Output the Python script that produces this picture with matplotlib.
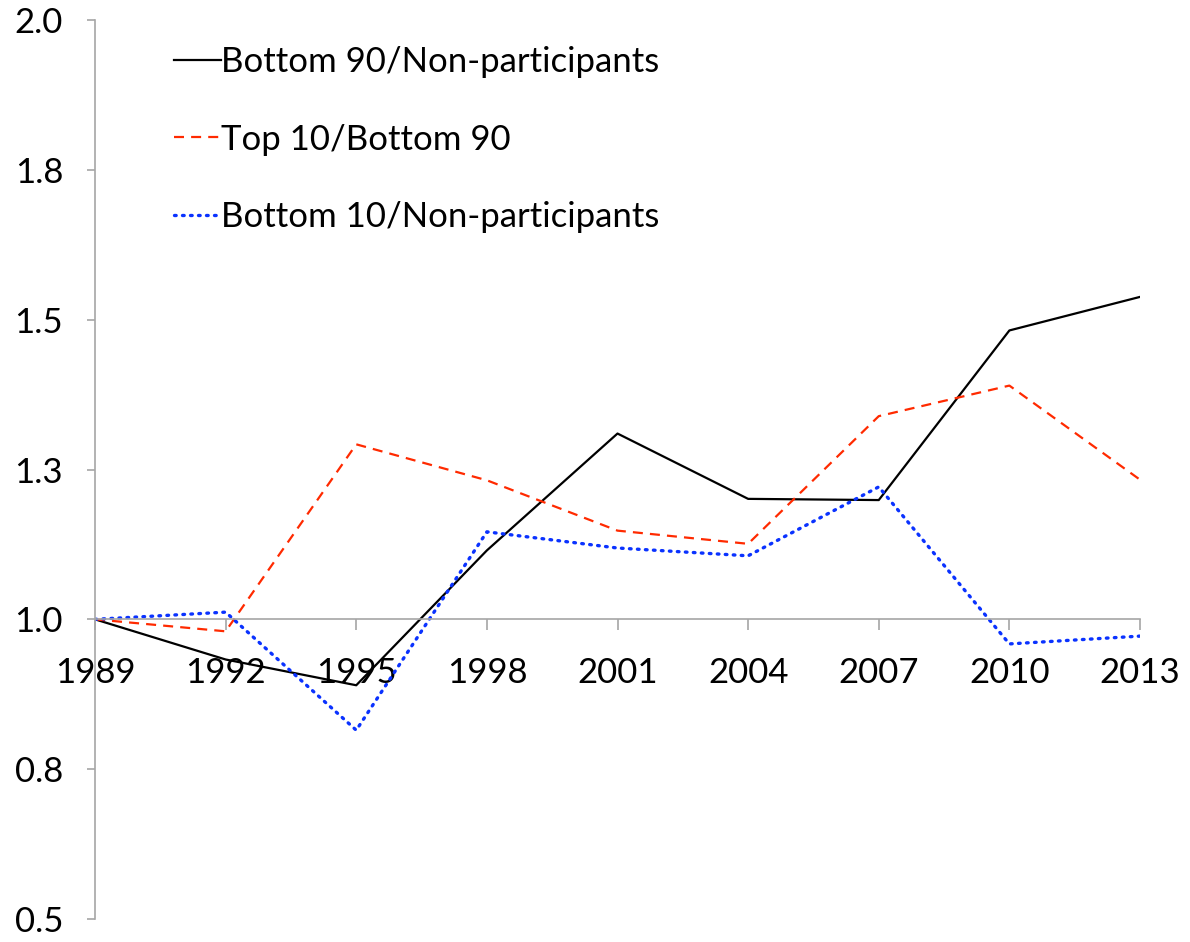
import matplotlib
matplotlib.use("Agg")
import matplotlib.pyplot as plt

years = ["1989", "1992", "1995", "1998", "2001", "2004", "2007", "2010", "2013"]
bottom90_nonpart = [1.0, 0.933, 0.89, 1.115, 1.31, 1.201, 1.199, 1.482, 1.538]
top10_bottom90 = [1.0, 0.98, 1.292, 1.232, 1.148, 1.126, 1.339, 1.39, 1.233]
bottom10_nonpart = [1.0, 1.012, 0.815, 1.146, 1.119, 1.106, 1.221, 0.959, 0.972]
series_labels = ["Bottom 90/Non-participants", "Top 10/Bottom 90", "Bottom 10/Non-participants"]
y_ticks = [0.5, 0.75, 1.0, 1.25, 1.5, 1.75, 2.0]
y_tick_labels = ["0.5", "0.8", "1.0", "1.3", "1.5", "1.8", "2.0"]

plt.rcParams['font.family'] = ['Lato', 'DejaVu Sans']

fig = plt.figure(figsize=(11.9, 9.42), dpi=100)
ax = fig.add_axes([95/1190, 23/942, (1140-95)/1190, (919-20)/942])

x = list(range(len(years)))
ax.plot(x, bottom90_nonpart, color='black', lw=1.6, label=series_labels[0])
ax.plot(x, top10_bottom90, color='#FF2A00', lw=1.6, dashes=(4.5, 3.2), label=series_labels[1])
ax.plot(x, bottom10_nonpart, color='#0A32FF', lw=2.4, linestyle=(0, (0.5, 1.9)),
        dash_capstyle='round', label=series_labels[2])

ax.set_xlim(0, len(years) - 1)
ax.set_ylim(0.5, 2.0)
ax.set_yticks(y_ticks)
ax.set_yticklabels(y_tick_labels)
ax.set_xticks(x)
ax.set_xticklabels(years)

grey = '#A6A6A6'
for s in ['top', 'right']:
    ax.spines[s].set_visible(False)
ax.spines['left'].set_color(grey)
ax.spines['left'].set_linewidth(1.2)
ax.spines['bottom'].set_position(('data', 1.0))
ax.spines['bottom'].set_color(grey)
ax.spines['bottom'].set_linewidth(1.2)
ax.tick_params(axis='y', direction='out', length=6, width=1.2, color=grey,
               labelsize=25, pad=17)
ax.tick_params(axis='x', direction='out', length=8, width=1.2, color=grey,
               labelsize=25, pad=19)

leg = ax.legend(loc='upper left', bbox_to_anchor=(0.0625, 0.9865), frameon=False,
                fontsize=25, handlelength=1.35, handletextpad=0.0, labelspacing=1.31,
                borderaxespad=0)

fig.savefig('out.png', dpi=100)
